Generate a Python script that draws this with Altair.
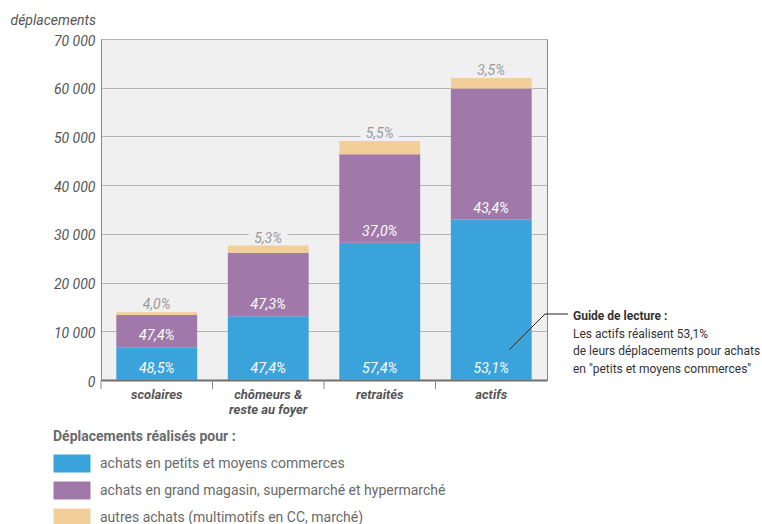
import altair as alt
import pandas as pd

# Trips for shopping, by population group
categories = ["scolaires", "chômeurs & reste au foyer", "retraités", "actifs"]
totals = [13900, 27600, 49100, 62000]          # total trips per group
pct_petits = [48.5, 47.4, 57.4, 53.1]          # small and medium shops
pct_grand = [47.4, 47.3, 37.0, 43.4]           # department stores / super & hypermarkets
pct_autres = [4.0, 5.3, 5.5, 3.5]              # other shopping

series = [
    "achats en petits et moyens commerces",
    "achats en grand magasin, supermarché et hypermarché",
    "autres achats (multimotifs en CC, marché)",
]
colors = ["#3ba3dc", "#a079aa", "#f2cf98"]
y_ticks = [0, 10000, 20000, 30000, 40000, 50000, 60000, 70000]

rows = []
for cat, tot, pa, pb, pc in zip(categories, totals, pct_petits, pct_grand, pct_autres):
    start = 0.0
    for k, (name, pct) in enumerate(zip(series, [pa, pb, pc])):
        val = tot * pct / 100.0
        rows.append({
            "cat": cat,
            "serie": name,
            "ord": k,
            "start": start,
            "end": start + val,
            "label": f"{pct:.1f}".replace(".", ",") + "%",
        })
        start += val
df = pd.DataFrame(rows)

FONT = "Roboto"

x_enc = alt.X(
    "cat:N",
    sort=categories,
    scale=alt.Scale(paddingInner=0, paddingOuter=0),
    axis=alt.Axis(
        title=None,
        ticks=False,
        domainColor="#6f6f6f",
        domainWidth=2,
        labelFont=FONT,
        labelFontSize=13,
        labelFontStyle="italic",
        labelFontWeight="bold",
        labelColor="#555555",
        labelPadding=8,
        labelLineHeight=15,
        labelAngle=0,
        labelExpr="datum.value == 'chômeurs & reste au foyer' ? ['chômeurs &', 'reste au foyer'] : datum.value",
    ),
)

y_scale = alt.Scale(domain=[0, 70000], nice=False)

top = df[df["ord"] == 2]

# background-coloured halo behind the top labels, drawn first so it only hides gridlines
top_mask = alt.Chart(top).mark_text(
    font=FONT, fontSize=14, fontStyle="italic", color="#f0f0f0",
    stroke="#f0f0f0", strokeWidth=12, baseline="alphabetic", dy=-3,
).encode(
    x=x_enc,
    y=alt.Y(
        "end:Q",
        scale=y_scale,
        axis=alt.Axis(
            values=y_ticks,
            title="déplacements",
            titleAngle=0,
            titleAlign="left",
            titleBaseline="alphabetic",
            titleX=-91,
            titleY=-15,
            titleFont=FONT,
            titleFontSize=14,
            titleFontStyle="italic",
            titleFontWeight="normal",
            titleColor="#555555",
            labelExpr="replace(format(datum.value, ','), ',', ' ')",
            labelFont=FONT,
            labelFontSize=14,
            labelFontStyle="italic",
            labelColor="#555555",
            labelPadding=6,
            labelOffset=2,
            ticks=False,
            domainColor="#888888",
            gridColor="#b4b4b4",
            gridWidth=1,
        ),
    ),
    text="label:N",
)

bars = alt.Chart(df).mark_bar(width=alt.RelativeBandSize(0.725)).encode(
    x=alt.X("cat:N", sort=categories),
    y=alt.Y("start:Q", scale=y_scale),
    y2="end:Q",
    color=alt.Color(
        "serie:N",
        scale=alt.Scale(domain=series, range=colors),
        legend=alt.Legend(
            title="Déplacements réalisés pour :",
            orient="none",
            legendX=-48,
            legendY=391,
            titleFont=FONT,
            titleFontSize=14,
            titleFontWeight="bold",
            titleColor="#6a6a6a",
            titlePadding=10,
            titleLimit=500,
            labelFont=FONT,
            labelFontSize=14,
            labelColor="#6a6a6a",
            labelOffset=28,
            labelLimit=500,
            symbolType="M-1,-1L3.111,-1L3.111,1L-1,1Z",
            symbolSize=324,
            symbolStrokeWidth=1,
            symbolOpacity=1,
            rowPadding=8,
        ),
    ),
    order=alt.Order("ord:Q"),
)

inner = df[df["ord"] < 2]
inner_labels = alt.Chart(inner).mark_text(
    font=FONT, fontSize=14, fontStyle="italic", color="white",
    baseline="alphabetic", dy=-7,
).encode(
    x=alt.X("cat:N", sort=categories),
    y=alt.Y("start:Q", scale=y_scale),
    text="label:N",
)

top_labels = alt.Chart(top).mark_text(
    font=FONT, fontSize=14, fontStyle="italic", color="#9a9a9a",
    baseline="alphabetic", dy=-3,
).encode(
    x=alt.X("cat:N", sort=categories),
    y=alt.Y("end:Q", scale=y_scale),
    text="label:N",
)

# category separators below the x axis
seps = alt.Chart(pd.DataFrame({"cat": categories})).mark_rule(
    color="#888888", strokeWidth=1
).encode(
    x=alt.X("cat:N", sort=categories, bandPosition=0),
    y=alt.value(341),
    y2=alt.value(350),
)

# reading guide annotation
guide_line = alt.Chart(pd.DataFrame({"a": [0]})).mark_rule(color="#222222", strokeWidth=1).encode(
    x=alt.value(408), x2=alt.value(444), y=alt.value(311), y2=alt.value(275)
)
guide_line2 = alt.Chart(pd.DataFrame({"a": [0]})).mark_rule(color="#222222", strokeWidth=1).encode(
    x=alt.value(444), x2=alt.value(467), y=alt.value(275), y2=alt.value(275)
)
guide_title = alt.Chart(pd.DataFrame({"t": ["Guide de lecture :"]})).mark_text(
    font=FONT, fontSize=12, fontWeight="bold", color="#333333", align="left", baseline="alphabetic"
).encode(x=alt.value(472), y=alt.value(281), text="t:N")
guide_body = alt.Chart(pd.DataFrame({"t": [[
    "Les actifs réalisent 53,1%",
    "de leurs déplacements pour achats",
    "en \"petits et moyens commerces\"",
]]})).mark_text(
    font=FONT, fontSize=12, color="#333333", align="left", baseline="alphabetic", lineHeight=17.3
).encode(x=alt.value(472), y=alt.value(299), text="t:N")

chart = alt.layer(
    top_mask, bars, seps, inner_labels, top_labels,
    guide_line, guide_line2, guide_title, guide_body,
).properties(
    width=446,
    height=341,
    autosize=alt.AutoSizeParams(type="none"),
    padding={"left": 101, "top": 39, "right": 215, "bottom": 144},
    background="white",
).configure_view(
    fill="#f0f0f0", stroke="#888888", strokeWidth=1
)

chart.save("out.html", embed_options={"renderer": "svg", "actions": False})
